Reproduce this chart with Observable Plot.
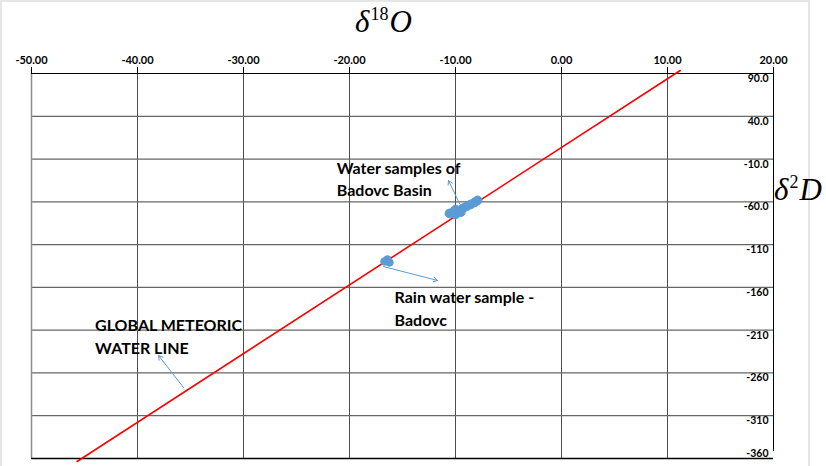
<!DOCTYPE html>
<html>
<head>
<meta charset="utf-8">
<script src="https://cdn.jsdelivr.net/npm/d3@7"></script>
<script src="https://cdn.jsdelivr.net/npm/@observablehq/plot@0.6"></script>
<style>
  body { margin: 0; background: #fff; }
  #wrap { position: relative; width: 826px; height: 466px; overflow: hidden; }
  #frame { position: absolute; left: 0px; top: 0px; width: 806px; height: 480px;
           border-top: 2px solid #e6e6e6; border-left: 2px solid #e6e6e6; border-right: 2px solid #e6e6e6; }
  .ttl { position: absolute; font-family: "Liberation Serif", "DejaVu Serif", serif; font-size: 31px; color: #000; white-space: nowrap; line-height: 1; }
  .ttl i { font-style: italic; }
  .ttl sup { font-size: 18px; font-style: normal; vertical-align: 12px; line-height: 0; margin: 0 1px; }
  #plot { position: absolute; left: 0; top: 0; }
</style>
</head>
<body>
<div id="wrap">
  <div id="frame"></div>
  <div id="plot"></div>
  <div class="ttl" style="left:355px; top:6px;"><i>δ</i><sup>18</sup><i>O</i></div>
  <div class="ttl" style="left:774px; top:174px;"><i>δ</i><sup>2</sup><i>D</i></div>
</div>
<script>
// Axis ticks
const xTicks = [-50, -40, -30, -20, -10, 0, 10, 20];
const xTickLabels = ["-50.00", "-40.00", "-30.00", "-20.00", "-10.00", "0.00", "10.00", "20.00"];
const yTicks = [90, 40, -10, -60, -110, -160, -210, -260, -310, -360];
const yTickLabels = ["90.0", "40.0", "-10.0", "-60.0", "-110", "-160", "-210", "-260", "-310", "-360"];

// Global meteoric water line (endpoints as drawn)
const gmwlO = [-45.7, 11.2];
const gmwlD = [-363.5, 93.5];

// Water samples of Badovc Basin
const basinO = [-10.28, -10.0, -9.72, -9.34, -8.96, -8.58, -8.21, -7.92, -10.0, -10.57, -9.5];
const basinD = [-72.5, -74.8, -71.3, -67.8, -65.4, -63.1, -60.8, -58.4, -69.0, -73.6, -72.0];

// Rain water sample - Badovc
const rainO = [-16.70, -16.23, -16.42];
const rainD = [-129.7, -130.9, -127.4];

// Annotation arrows [x1, y1, x2, y2]
const arrowX1 = [-9.62, -16.79, -35.66];
const arrowY1 = [-61.9, -135.7, -277.0];
const arrowX2 = [-10.66, -11.7, -38.02];
const arrowY2 = [-35.1, -151.9, -239.6];

// Annotation texts
const noteText = ["Water samples of", "Badovc Basin", "Rain water sample -", "Badovc", "GLOBAL METEORIC", "WATER LINE"];
const noteO = [-21.2, -21.2, -15.75, -15.75, -44.0, -44.0];
const noteD = [-21.0, -46.7, -171.8, -198.7, -204.5, -231.4];

const gmwl = gmwlO.map((x, i) => ({x, y: gmwlD[i]}));
const basin = basinO.map((x, i) => ({x, y: basinD[i]}));
const rain = rainO.map((x, i) => ({x, y: rainD[i]}));
const arrows = arrowX1.map((x1, i) => ({x1, y1: arrowY1[i], x2: arrowX2[i], y2: arrowY2[i]}));
const notes = noteText.map((t, i) => ({t, x: noteO[i], y: noteD[i]}));
const yLab = yTicks.map((v, i) => ({v, label: yTickLabels[i]}));
const yLabMain = yLab.slice(0, -1);
const yLabLast = yLab.slice(-1);

const font = "Lato, 'Open Sans', sans-serif";

const chart = Plot.plot({
  width: 826,
  height: 466,
  marginLeft: 31,
  marginRight: 53,
  marginTop: 73,
  marginBottom: 8,
  style: {fontFamily: font, background: "transparent", overflow: "visible"},
  x: {domain: [-50, 20], axis: null},
  y: {domain: [-360, 90], axis: null},
  marks: [
    // vertical gridlines
    Plot.ruleX(xTicks.slice(1, -1), {stroke: "#4d4d4d", strokeWidth: 1}),
    // horizontal gridlines
    Plot.ruleY(yTicks.slice(1, -1), {stroke: "#666666", strokeWidth: 1.2}),
    // frame
    Plot.ruleX([-50], {stroke: "#8c8c8c", strokeWidth: 1.5}),
    Plot.ruleY([90], {stroke: "#000", strokeWidth: 1}),
    Plot.ruleY([-360], {stroke: "#000", strokeWidth: 1.5}),
    Plot.ruleX([20], {y1: -360, y2: 90, stroke: "#000", strokeWidth: 1, insetTop: -7}),
    // top axis
    Plot.axisX(xTicks, {anchor: "top", tickSize: 7, tickPadding: 3, tickFormat: (d, i) => xTickLabels[i],
      fontSize: 11, fontWeight: "bold", fill: "#000", stroke: "#000", label: null}),
    // right axis labels, inside, under each gridline
    Plot.text(yLabMain, {x: 20, y: "v", text: "label", textAnchor: "end", dx: -5, lineAnchor: "top", dy: 1,
      fontSize: 10.5, fontWeight: "bold", fill: "#000"}),
    Plot.text(yLabLast, {x: 20, y: "v", text: "label", textAnchor: "end", dx: -5, lineAnchor: "bottom", dy: -2,
      fontSize: 10.5, fontWeight: "bold", fill: "#000"}),
    // GMWL
    Plot.line(gmwl, {x: "x", y: "y", stroke: "#ff0000", strokeWidth: 1.6, clip: false}),
    // samples
    Plot.dot(basin, {x: "x", y: "y", r: 4.4, fill: "#5b9bd5", stroke: "#5b9bd5", strokeWidth: 1}),
    Plot.dot(rain, {x: "x", y: "y", r: 3.8, fill: "#5b9bd5", stroke: "#5b9bd5", strokeWidth: 1}),
    // arrows
    Plot.arrow(arrows, {x1: "x1", y1: "y1", x2: "x2", y2: "y2", stroke: "#5b9bd5", strokeWidth: 1, headLength: 7}),
    // notes
    Plot.text(notes, {x: "x", y: "y", text: "t", textAnchor: "start", fontSize: 16, fontWeight: "bold", fill: "#000"})
  ]
});
document.getElementById("plot").appendChild(chart);
</script>
</body>
</html>
